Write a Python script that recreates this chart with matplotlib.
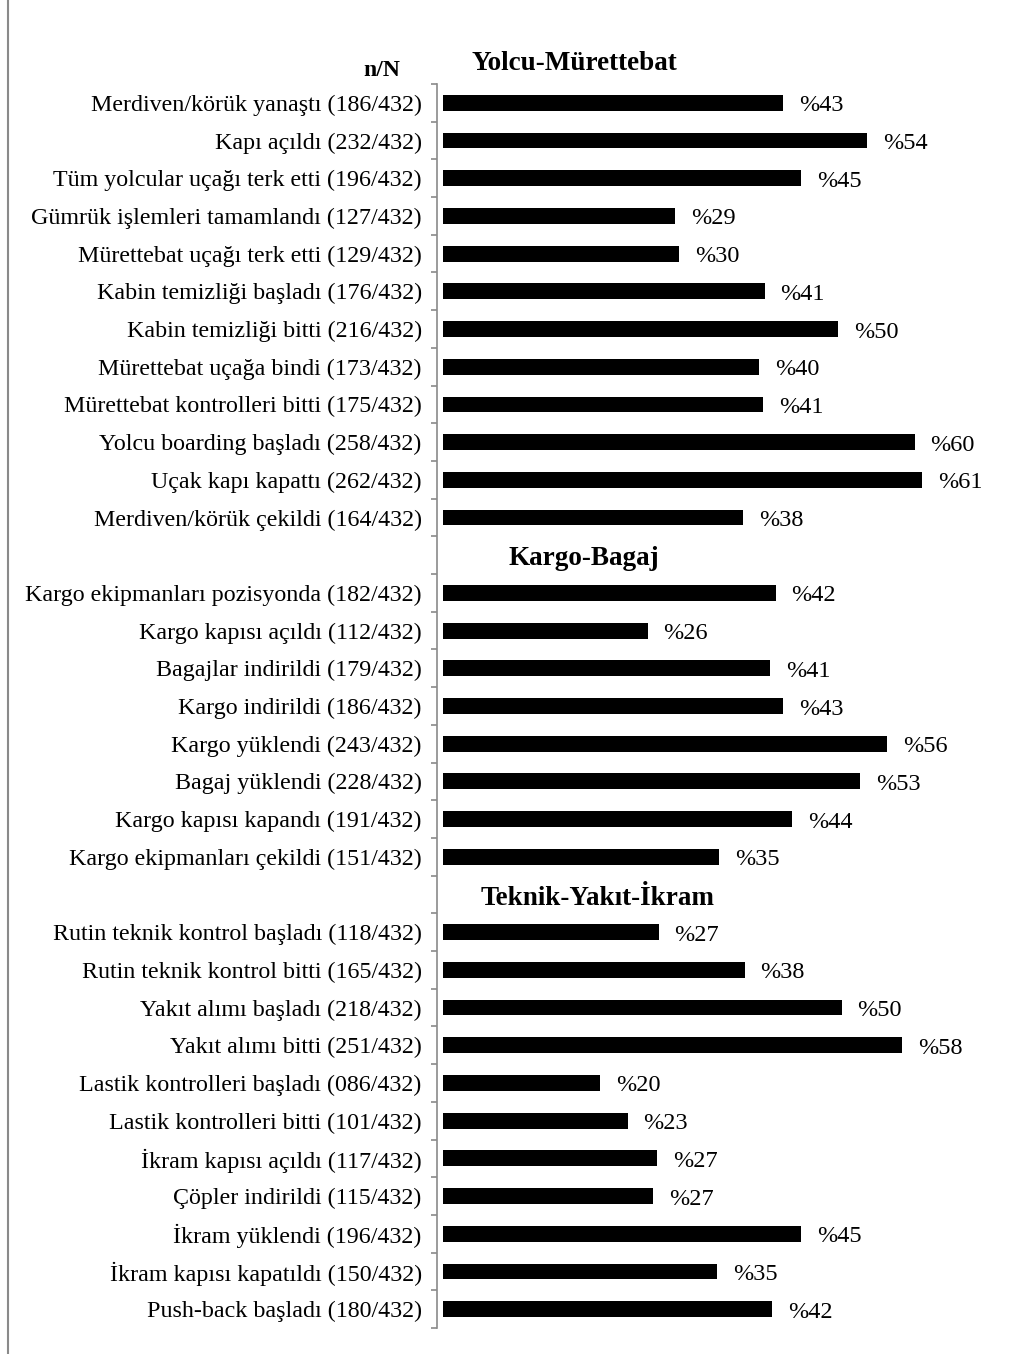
import matplotlib
matplotlib.use("Agg")
import matplotlib.pyplot as plt
from matplotlib.lines import Line2D

N_TOTAL = 432

yolcu_labels = [
    "Merdiven/körük yanaştı", "Kapı açıldı", "Tüm yolcular uçağı terk etti",
    "Gümrük işlemleri tamamlandı", "Mürettebat uçağı terk etti",
    "Kabin temizliği başladı", "Kabin temizliği bitti", "Mürettebat uçağa bindi",
    "Mürettebat kontrolleri bitti", "Yolcu boarding başladı", "Uçak kapı kapattı",
    "Merdiven/körük çekildi",
]
yolcu_n = [186, 232, 196, 127, 129, 176, 216, 173, 175, 258, 262, 164]
yolcu_pct = [43, 54, 45, 29, 30, 41, 50, 40, 41, 60, 61, 38]

kargo_labels = [
    "Kargo ekipmanları pozisyonda", "Kargo kapısı açıldı", "Bagajlar indirildi",
    "Kargo indirildi", "Kargo yüklendi", "Bagaj yüklendi", "Kargo kapısı kapandı",
    "Kargo ekipmanları çekildi",
]
kargo_n = [182, 112, 179, 186, 243, 228, 191, 151]
kargo_pct = [42, 26, 41, 43, 56, 53, 44, 35]

teknik_labels = [
    "Rutin teknik kontrol başladı", "Rutin teknik kontrol bitti", "Yakıt alımı başladı",
    "Yakıt alımı bitti", "Lastik kontrolleri başladı", "Lastik kontrolleri bitti",
    "İkram kapısı açıldı", "Çöpler indirildi", "İkram yüklendi",
    "İkram kapısı kapatıldı", "Push-back başladı",
]
teknik_n = [118, 165, 218, 251, 86, 101, 117, 115, 196, 150, 180]
teknik_pct = [27, 38, 50, 58, 20, 23, 27, 27, 45, 35, 42]

section_titles = ["Yolcu-Mürettebat", "Kargo-Bagaj", "Teknik-Yakıt-İkram"]

plt.rcParams['font.family'] = ['Liberation Serif', 'DejaVu Serif']

rows = []
groups = [(yolcu_labels, yolcu_n, yolcu_pct), (kargo_labels, kargo_n, kargo_pct),
          (teknik_labels, teknik_n, teknik_pct)]
title_rows = {}
for gi, (labs, ns, ps) in enumerate(groups):
    if gi > 0:
        title_rows[len(rows)] = section_titles[gi]
        rows.append(None)
    for l, n, p in zip(labs, ns, ps):
        rows.append((l, n, p))

nrows = len(rows)
W, H = 1020, 1354
fig = plt.figure(figsize=(W / 100, H / 100), dpi=100)
ax_left, ax_right = 437, 996
ax_top, ax_bot = 84, 1328
ax = fig.add_axes([ax_left / W, 1 - ax_bot / H, (ax_right - ax_left) / W, (ax_bot - ax_top) / H])

gray = '#8a8a8a'
ypos, vals, ticklabels = [], [], []
for i, r in enumerate(rows):
    if r is None:
        ticklabels.append("")
        continue
    l, n, p = r
    v = n / N_TOTAL * 100
    ypos.append(i)
    vals.append(v)
    ticklabels.append(f"{l} ({n:03d}/{N_TOTAL})")
    ax.text(v + 2.0, i + 0.08, f"%{p}", va='center', ha='left', fontsize=17.5)

ax.barh(ypos, vals, height=0.42, color='black')

title_x = {1: 17.8, 2: 19.6}
for k, (i, t) in enumerate(title_rows.items()):
    ax.text(title_x[k + 1], i + 0.1, t, ha='center', va='center',
            fontsize=19.5, fontweight='bold')
ax.text(16.7, -1.05, section_titles[0], ha='center', va='center',
        fontsize=19.5, fontweight='bold', clip_on=False)
ax.text(-7.7, -0.85, "n/N", ha='center', va='center',
        fontsize=17, fontweight='bold', clip_on=False)

ax.set_xlim(-0.75, 70)
ax.set_ylim(nrows - 0.5, -0.5)
ax.set_yticks(range(nrows))
ax.set_yticklabels(ticklabels, fontsize=17.3)
ax.set_yticks([i - 0.5 for i in range(nrows + 1)], minor=True)
ax.tick_params(axis='y', which='major', length=0, pad=11)
ax.tick_params(axis='y', which='minor', length=4, color=gray, width=1.2)
ax.set_xticks([])
for s in ['top', 'right', 'bottom']:
    ax.spines[s].set_visible(False)
ax.spines['left'].set_color(gray)
ax.spines['left'].set_linewidth(1.2)

fig.add_artist(Line2D([8 / W, 8 / W], [0, 1], color=gray, lw=1.5, transform=fig.transFigure))

fig.savefig("out.png", dpi=100)
